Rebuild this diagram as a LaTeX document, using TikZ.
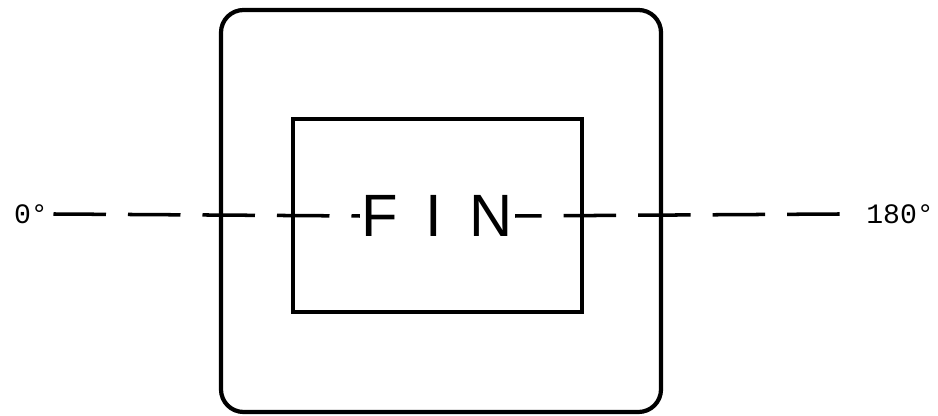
\documentclass[tikz,border=0pt]{standalone}
\usepackage{fontspec}
\setmainfont{Liberation Sans}
\newfontfamily\plotfont{Liberation Mono}
\usetikzlibrary{positioning,calc}

\begin{document}
\begin{tikzpicture}
\tikzset{frame/.style={draw=black,line width=2.4pt,rounded corners=0.45cm},panel/.style={draw=black,line width=2.2pt},axis/.style={black,line width=2pt,dash pattern=on 1.05cm off 0.44cm},angle/.style={font=\plotfont\fontsize{16}{16}\selectfont,inner sep=1pt}}
\useasboundingbox (0,0) rectangle (18.76,8.32);
\draw[frame] (4.42,0.08) rectangle (13.22,8.12);
\draw[panel] (5.86,2.08) rectangle (11.64,5.94);
\node[angle] (zero) at (0.62,4.04) {0°};
\node[angle] (half) at (18.0,4.04) {180°};
\node[fill=white,inner sep=1pt,font=\fontsize{34}{34}\selectfont] (fin) at (8.75,4.0) {F\kern0.55cm I\kern0.55cm N};
\draw[axis] ([xshift=2pt]zero.east) -- (fin.west);
\draw[axis] ([xshift=-14pt]half.west) -- (fin.east);
\end{tikzpicture}
\end{document}
